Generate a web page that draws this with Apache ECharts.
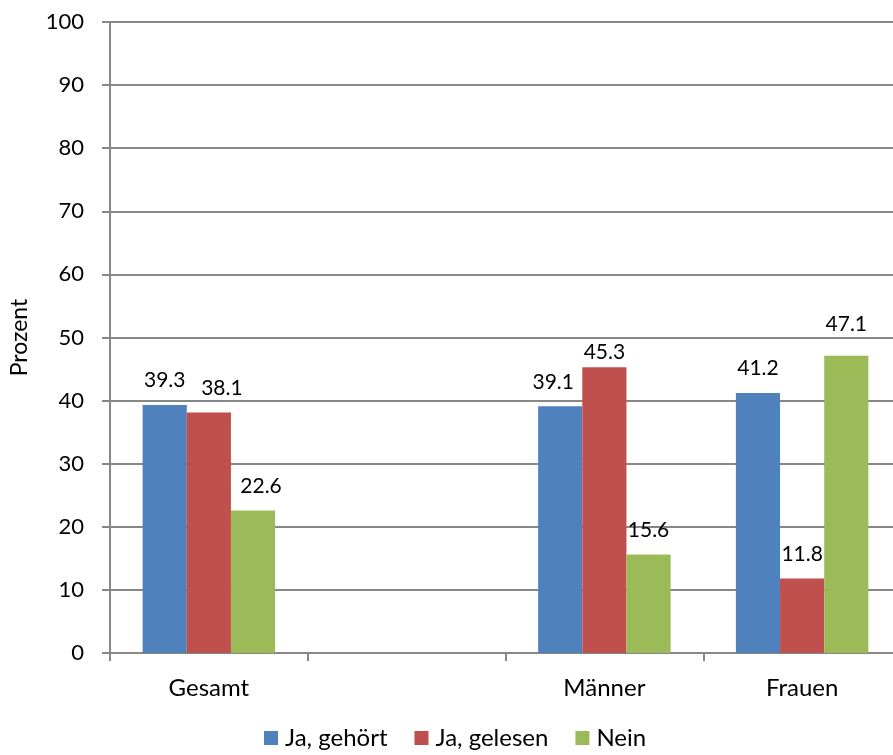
<!DOCTYPE html>
<html>
<head>
<meta charset="utf-8">
<script src="https://cdn.jsdelivr.net/npm/echarts@6/dist/echarts.min.js"></script>
<style>
  html, body { margin: 0; padding: 0; background: #fff; overflow: hidden; }
  #chart { width: 920px; height: 755px; }
</style>
</head>
<body>
<div id="chart"></div>
<script>
// Kategorien (die zweite Spalte bleibt leer)
const categories = ['Gesamt', '', 'Männer', 'Frauen'];
const seriesNames = ['Ja, gehört', 'Ja, gelesen', 'Nein'];
const gehoert = [39.3, null, 39.1, 41.2];
const gelesen = [38.1, null, 45.3, 11.8];
const nein = [22.6, null, 15.6, 47.1];
const yTicks = [0, 10, 20, 30, 40, 50, 60, 70, 80, 90, 100];

const colors = ['#4F81BD', '#C0504D', '#9BBB59'];
const font = 'Lato, "Open Sans", sans-serif';

// manuell verschobene Beschriftungen: [Serie, Kategorie, dx, dy]
const labelShifts = [
  [1, 0, 13, 0],
  [2, 0, 8, 0],
  [0, 2, -7, 0],
  [1, 2, 0, 10],
  [2, 3, 0, -7]
];

function barSeries(seriesIndex, data) {
  const items = data.map(function (v, i) {
    if (v === null) return '-';
    const shift = labelShifts.find(function (s) { return s[0] === seriesIndex && s[1] === i; });
    if (!shift) return v;
    return { value: v, label: { offset: [shift[2], shift[3]] } };
  });
  return {
    name: seriesNames[seriesIndex],
    type: 'bar',
    data: items,
    barGap: '0%',
    barCategoryGap: '33%',
    itemStyle: { color: colors[seriesIndex] },
    label: {
      show: true,
      position: 'top',
      distance: 14,
      color: '#000',
      fontFamily: font,
      fontSize: 21
    }
  };
}

const chart = echarts.init(document.getElementById('chart'), null, { renderer: 'canvas' });
chart.setOption({
  animation: false,
  textStyle: { fontFamily: font },
  grid: { left: 109, top: 22, width: 792, bottom: 102, containLabel: false },
  legend: {
    bottom: 0,
    left: 259,
    itemWidth: 14,
    itemHeight: 14,
    itemGap: 27,
    icon: 'rect',
    textStyle: { fontFamily: font, fontSize: 24, color: '#000', padding: [0, 0, 0, 2] },
    data: seriesNames
  },
  xAxis: {
    type: 'category',
    data: categories,
    axisLine: { lineStyle: { color: '#878787', width: 2 } },
    axisTick: { show: true, length: 8, lineStyle: { color: '#878787', width: 2 } },
    axisLabel: { color: '#000', fontFamily: font, fontSize: 24, margin: 23 }
  },
  yAxis: {
    type: 'value',
    min: yTicks[0],
    max: yTicks[yTicks.length - 1],
    interval: yTicks[1] - yTicks[0],
    name: 'Prozent',
    nameLocation: 'middle',
    nameGap: 79,
    nameTextStyle: { color: '#000', fontFamily: font, fontSize: 23 },
    axisLine: { show: true, lineStyle: { color: '#878787', width: 2 } },
    axisTick: { show: true, length: 8, lineStyle: { color: '#878787', width: 2 } },
    axisLabel: { color: '#000', fontFamily: font, fontSize: 22, margin: 26 },
    splitLine: { lineStyle: { color: '#878787', width: 2 } }
  },
  series: [
    barSeries(0, gehoert),
    barSeries(1, gelesen),
    barSeries(2, nein)
  ]
});
</script>
</body>
</html>
